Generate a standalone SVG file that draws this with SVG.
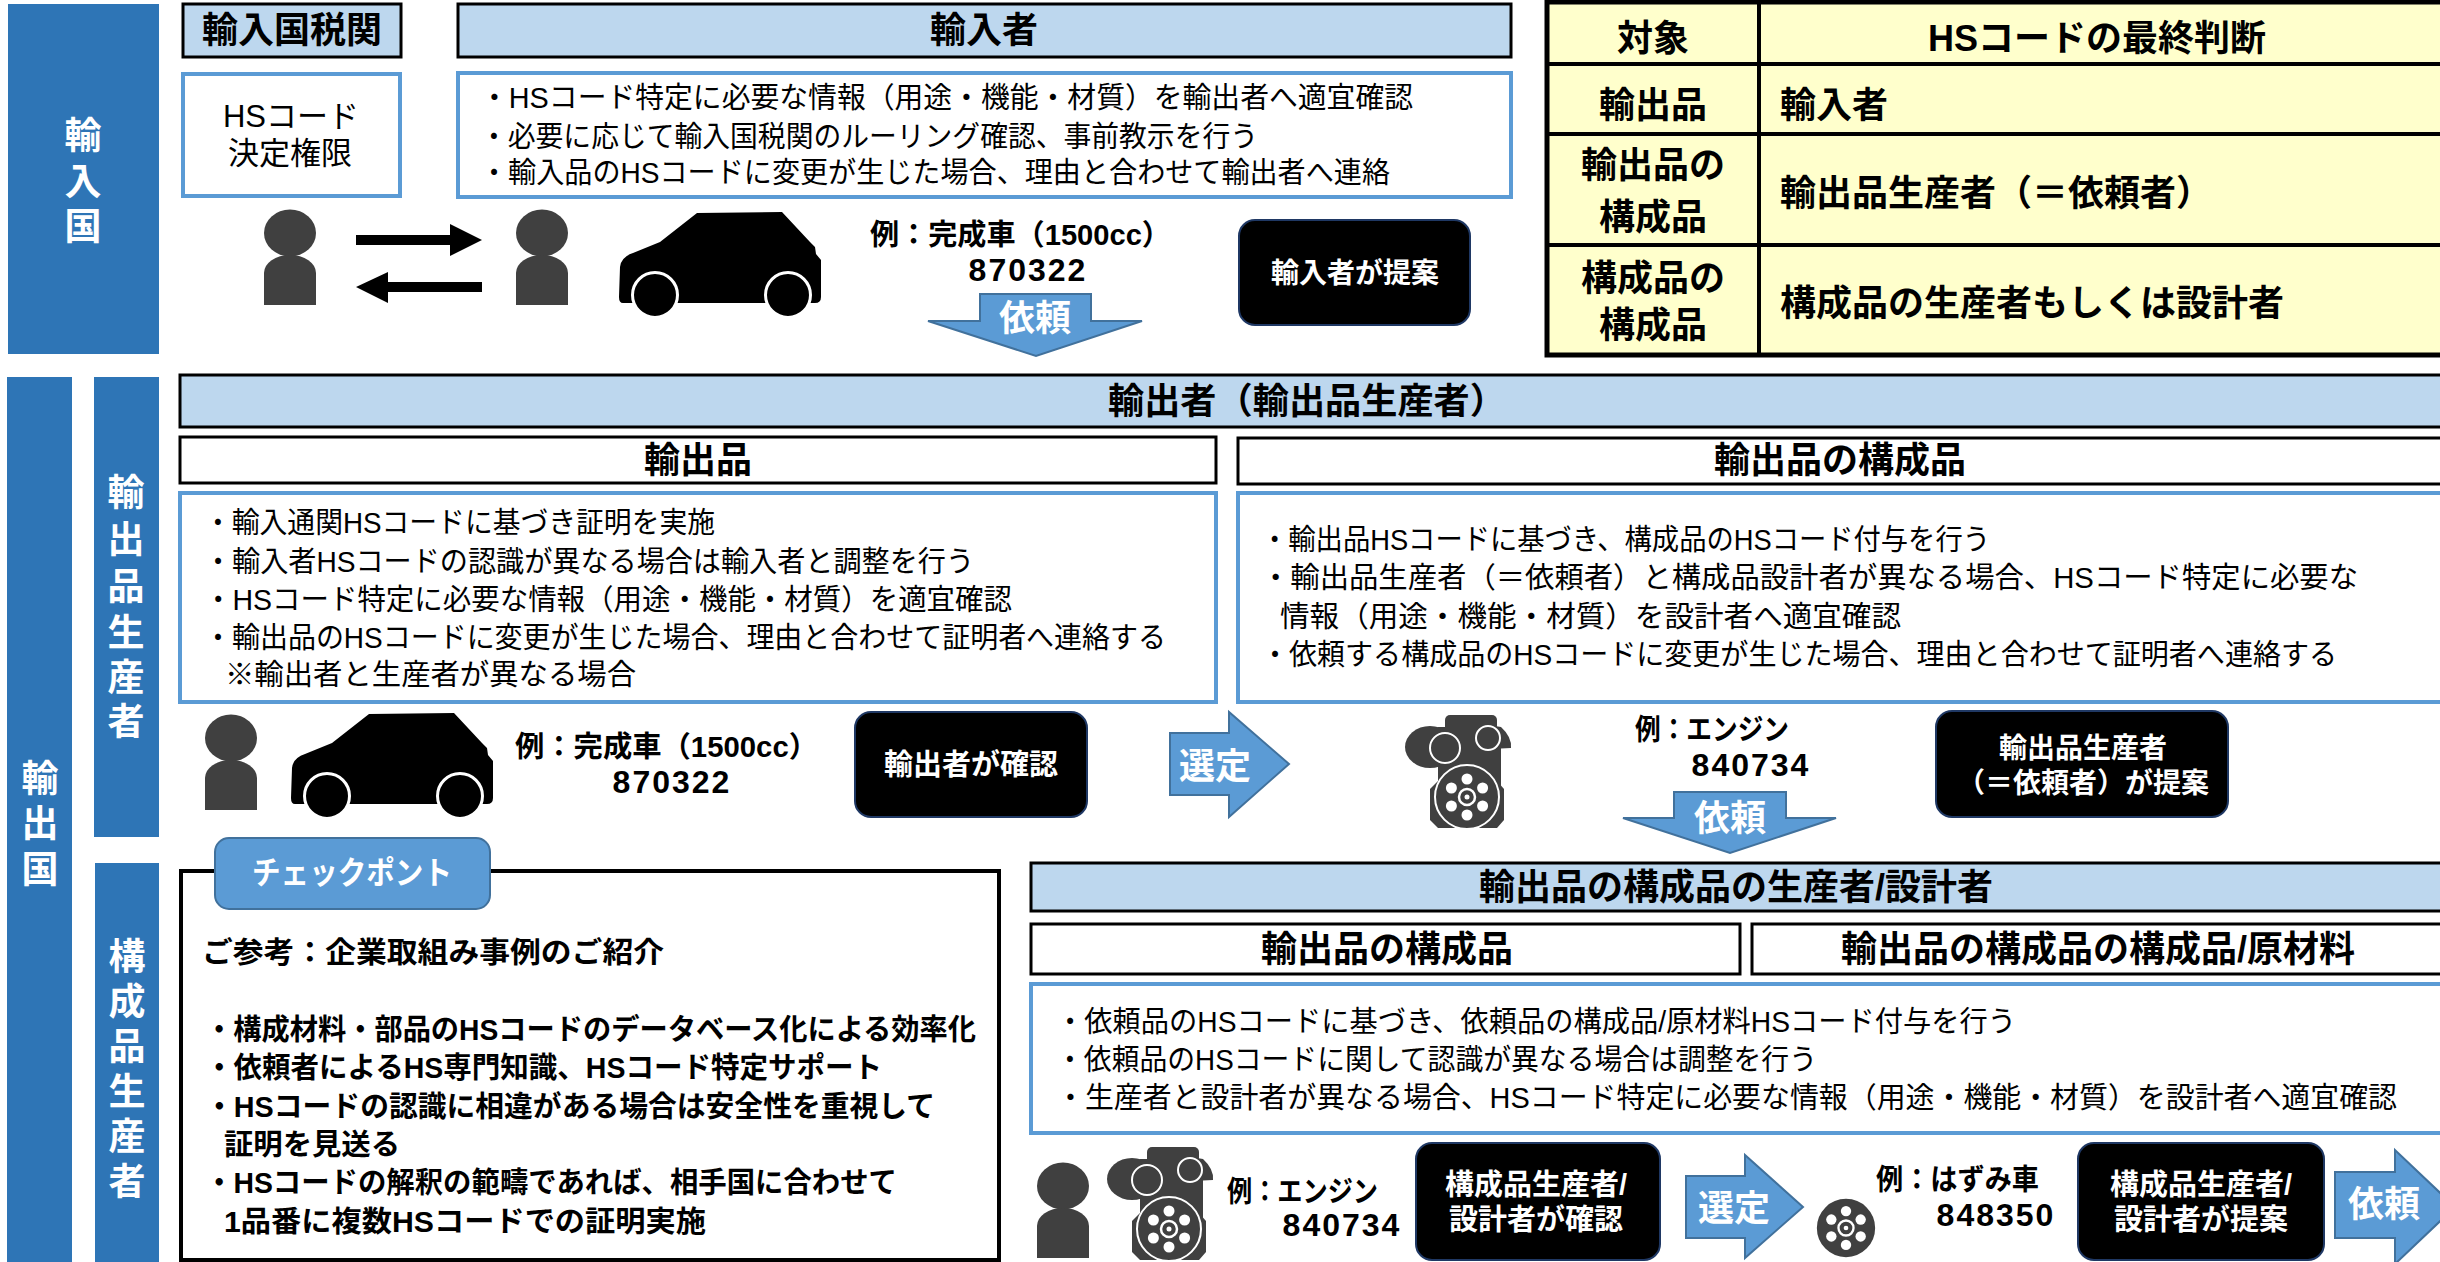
<svg xmlns="http://www.w3.org/2000/svg" xmlns:xlink="http://www.w3.org/1999/xlink" width="2440" height="1262" viewBox="0 0 2440 1262">
<style>
  .t{font-family:"Liberation Sans","Noto Sans CJK JP",sans-serif;fill:#000}
  .b{font-weight:700}
  .c{text-anchor:middle;dominant-baseline:central}
  .l{dominant-baseline:central}
  .w{fill:#fff}
  .band{fill:#2E75B6}
  .hdr{fill:#BDD7EE;stroke:#000;stroke-width:3}
  .sub{fill:#fff;stroke:#000;stroke-width:3}
  .desc{fill:#fff;stroke:#5B9BD5;stroke-width:4}
  .blk{fill:#000;stroke:#1F3864;stroke-width:2}
  .arw{fill:#5B9BD5;stroke:#41719C;stroke-width:2}
  .icon{fill:#404040}
  .body{font-size:29px}
  .hd{font-size:36px;font-weight:700}
  .code{font-size:32px;font-weight:700;letter-spacing:2px}
  .ex{font-size:29px;font-weight:700}
</style>
<defs>
  <g id="person" class="icon">
    <ellipse cx="26" cy="23" rx="26" ry="23.5"/>
    <path d="M0,95 V63 A26,18 0 0 1 52,63 V95 Z"/>
  </g>
  <g id="wheel">
    <circle r="32" fill="#404040" stroke="#fff" stroke-width="2"/>
    <g fill="#fff">
      <circle cx="0" cy="-18" r="5.5"/>
      <circle cx="15.6" cy="-9" r="5.5"/>
      <circle cx="15.6" cy="9" r="5.5"/>
      <circle cx="0" cy="18" r="5.5"/>
      <circle cx="-15.6" cy="9" r="5.5"/>
      <circle cx="-15.6" cy="-9" r="5.5"/>
      <circle r="2.5"/>
    </g>
    <circle r="8" fill="none" stroke="#fff" stroke-width="2.5"/>
  </g>
  <g id="engine">
    <g class="icon">
      <rect x="40" y="0" width="52" height="24" rx="5"/>
      <rect x="33" y="12" width="63" height="60"/>
      <ellipse cx="25" cy="32" rx="25" ry="21"/>
      <path d="M84,10 L96,12 Q107,22 106,33 L86,34 Z"/>
      <polygon points="33,66 25,74 25,105 33,113 92,113 99,105 99,74 92,66"/>
    </g>
    <circle cx="40" cy="33" r="15" fill="#404040" stroke="#fff" stroke-width="2"/>
    <circle cx="83" cy="23" r="12" fill="#404040" stroke="#fff" stroke-width="2"/>
    <use xlink:href="#wheel" transform="translate(62,82)"/>
  </g>
  <g id="car">
    <path d="M0,86 L1,56 Q2,46 14,42 L41,31 L78,2 L163,1 L191,31 L196,36 L197,43 L202,49 L202,86 Q202,92 196,92 L4,92 Q0,92 0,86 Z" fill="#000"/>
    <circle cx="36" cy="84" r="22.5" fill="#000" stroke="#fff" stroke-width="3"/>
    <circle cx="169" cy="84" r="22.5" fill="#000" stroke="#fff" stroke-width="3"/>
  </g>
</defs>

<!-- side bands -->
<g id="band-import">
  <rect class="band" x="8" y="4" width="151" height="350"/>
  <text class="t b c w" font-size="37"><tspan x="83" y="136">輸</tspan><tspan x="83" y="182">入</tspan><tspan x="83" y="227">国</tspan></text>
</g>
<g id="band-export">
  <rect class="band" x="7" y="377" width="65" height="890"/>
  <text class="t b c w" font-size="37"><tspan x="40" y="779">輸</tspan><tspan x="40" y="824">出</tspan><tspan x="40" y="870">国</tspan></text>
</g>
<g id="band-export-producer">
  <rect class="band" x="94" y="377" width="65" height="460"/>
  <text class="t b c w" font-size="37"><tspan x="126" y="493">輸</tspan><tspan x="126" y="540">出</tspan><tspan x="126" y="587">品</tspan><tspan x="126" y="633">生</tspan><tspan x="126" y="678">産</tspan><tspan x="126" y="722">者</tspan></text>
</g>
<g id="band-part-producer">
  <rect class="band" x="95" y="863" width="64" height="404"/>
  <text class="t b c w" font-size="37"><tspan x="127" y="957">構</tspan><tspan x="127" y="1002">成</tspan><tspan x="127" y="1047">品</tspan><tspan x="127" y="1092">生</tspan><tspan x="127" y="1137">産</tspan><tspan x="127" y="1182">者</tspan></text>
</g>

<!-- importing country -->
<g id="customs">
  <rect class="hdr" x="183" y="4" width="218" height="53"/>
  <text class="t hd c" x="292" y="30">輸入国税関</text>
  <rect class="desc" x="183" y="74" width="217" height="122"/>
  <text class="t c" font-size="31" x="291" y="116">HSコード</text>
  <text class="t c" font-size="31" x="290" y="153">決定権限</text>
</g>
<g id="importer">
  <rect class="hdr" x="458" y="4" width="1053" height="53"/>
  <text class="t hd c" x="984" y="30">輸入者</text>
  <rect class="desc" x="458" y="73" width="1053" height="124"/>
  <text class="t body l" x="480" y="98" textLength="933" lengthAdjust="spacingAndGlyphs">・HSコード特定に必要な情報（用途・機能・材質）を輸出者へ適宜確認</text>
  <text class="t body l" x="480" y="137" textLength="778" lengthAdjust="spacingAndGlyphs">・必要に応じて輸入国税関のルーリング確認、事前教示を行う</text>
  <text class="t body l" x="480" y="173" textLength="910" lengthAdjust="spacingAndGlyphs">・輸入品のHSコードに変更が生じた場合、理由と合わせて輸出者へ連絡</text>
</g>
<g id="import-scene">
  <use xlink:href="#person" x="264" y="210"/>
  <use xlink:href="#person" x="516" y="210"/>
  <use xlink:href="#car" x="619" y="211"/>
  <text class="t ex l" x="870" y="235" textLength="301" lengthAdjust="spacingAndGlyphs">例：完成車（1500cc）</text>
  <text class="t code c" x="1028" y="270">870322</text>
</g>
<g id="importer-proposes">
  <rect class="blk" x="1239" y="220" width="231" height="105" rx="16"/>
  <text class="t b c w" font-size="28" x="1355" y="273">輸入者が提案</text>
</g>

<!-- HS final decision table -->
<g id="decision-table">
  <rect x="1547" y="2" width="900" height="353" fill="#FFFFCC" stroke="#000" stroke-width="5"/>
  <g stroke="#000" stroke-width="4">
    <line x1="1759" y1="0" x2="1759" y2="355"/>
    <line x1="1547" y1="64" x2="2440" y2="64"/>
    <line x1="1547" y1="134" x2="2440" y2="134"/>
    <line x1="1547" y1="245" x2="2440" y2="245"/>
  </g>
  <g class="t hd">
    <text class="c" x="1653" y="38">対象</text>
    <text class="c" x="2097" y="38">HSコードの最終判断</text>
    <text class="c" x="1653" y="105">輸出品</text>
    <text class="l" x="1780" y="105">輸入者</text>
    <text class="c" x="1653" y="165">輸出品の</text>
    <text class="c" x="1653" y="217">構成品</text>
    <text class="l" x="1780" y="193" textLength="432" lengthAdjust="spacingAndGlyphs">輸出品生産者（＝依頼者）</text>
    <text class="c" x="1653" y="278">構成品の</text>
    <text class="c" x="1653" y="325">構成品</text>
    <text class="l" x="1780" y="303">構成品の生産者もしくは設計者</text>
  </g>
</g>

<!-- exporting country: exporter -->
<g id="exporter">
  <rect class="hdr" x="180" y="375" width="2270" height="52"/>
  <text class="t hd c" x="1307" y="401" textLength="398" lengthAdjust="spacingAndGlyphs">輸出者（輸出品生産者）</text>
</g>
<g id="export-goods">
  <rect class="sub" x="180" y="437" width="1036" height="46"/>
  <text class="t hd c" x="698" y="460">輸出品</text>
  <rect class="desc" x="180" y="493" width="1036" height="209"/>
  <text class="t body l" x="204" y="523" textLength="511" lengthAdjust="spacingAndGlyphs">・輸入通関HSコードに基づき証明を実施</text>
  <text class="t body l" x="204" y="562" textLength="770" lengthAdjust="spacingAndGlyphs">・輸入者HSコードの認識が異なる場合は輸入者と調整を行う</text>
  <text class="t body l" x="204" y="600" textLength="808" lengthAdjust="spacingAndGlyphs">・HSコード特定に必要な情報（用途・機能・材質）を適宜確認</text>
  <text class="t body l" x="204" y="638" textLength="962" lengthAdjust="spacingAndGlyphs">・輸出品のHSコードに変更が生じた場合、理由と合わせて証明者へ連絡する</text>
  <text class="t body l" x="225" y="675" textLength="411" lengthAdjust="spacingAndGlyphs">※輸出者と生産者が異なる場合</text>
</g>
<g id="export-parts">
  <rect class="sub" x="1238" y="438" width="1210" height="46"/>
  <text class="t hd c" x="1840" y="460">輸出品の構成品</text>
  <rect class="desc" x="1238" y="493" width="1210" height="209"/>
  <text class="t body l" x="1261" y="540" textLength="729" lengthAdjust="spacingAndGlyphs">・輸出品HSコードに基づき、構成品のHSコード付与を行う</text>
  <text class="t body l" x="1261" y="578" textLength="1097" lengthAdjust="spacingAndGlyphs">・輸出品生産者（＝依頼者）と構成品設計者が異なる場合、HSコード特定に必要な</text>
  <text class="t body l" x="1280" y="617" textLength="621" lengthAdjust="spacingAndGlyphs">情報（用途・機能・材質）を設計者へ適宜確認</text>
  <text class="t body l" x="1261" y="655" textLength="1076" lengthAdjust="spacingAndGlyphs">・依頼する構成品のHSコードに変更が生じた場合、理由と合わせて証明者へ連絡する</text>
</g>
<g id="export-scene">
  <use xlink:href="#person" x="205" y="715"/>
  <use xlink:href="#car" x="291" y="712"/>
  <text class="t ex l" x="515" y="747" textLength="303" lengthAdjust="spacingAndGlyphs">例：完成車（1500cc）</text>
  <text class="t code c" x="672" y="782">870322</text>
</g>
<g id="exporter-confirms">
  <rect class="blk" x="855" y="712" width="232" height="105" rx="16"/>
  <text class="t b c w" font-size="29" x="971" y="765">輸出者が確認</text>
</g>
<g id="engine-scene">
  <use xlink:href="#engine" x="1405" y="715"/>
  <text class="t ex l" x="1635" y="730" textLength="154" lengthAdjust="spacingAndGlyphs">例：エンジン</text>
  <text class="t code c" x="1751" y="765">840734</text>
</g>
<g id="producer-proposes">
  <rect class="blk" x="1936" y="711" width="292" height="106" rx="16"/>
  <text class="t b c w" font-size="28" x="2083" y="748">輸出品生産者</text>
  <text class="t b c w" font-size="28" x="2083" y="783">（＝依頼者）が提案</text>
</g>

<!-- checkpoint -->
<g id="checkpoint">
  <rect x="181" y="871" width="818" height="389" fill="#fff" stroke="#000" stroke-width="4"/>
  <rect x="215" y="838" width="275" height="71" rx="14" fill="#5B9BD5" stroke="#41719C" stroke-width="2"/>
  <text class="t b c w" font-size="32" x="352" y="873" textLength="200" lengthAdjust="spacingAndGlyphs">チェックポント</text>
  <g class="t b" font-size="29">
    <text class="l" x="202" y="953" textLength="462" lengthAdjust="spacingAndGlyphs">ご参考：企業取組み事例のご紹介</text>
    <text class="l" x="205" y="1030" textLength="771" lengthAdjust="spacingAndGlyphs">・構成材料・部品のHSコードのデータベース化による効率化</text>
    <text class="l" x="205" y="1068" textLength="677" lengthAdjust="spacingAndGlyphs">・依頼者によるHS専門知識、HSコード特定サポート</text>
    <text class="l" x="205" y="1107" textLength="730" lengthAdjust="spacingAndGlyphs">・HSコードの認識に相違がある場合は安全性を重視して</text>
    <text class="l" x="224" y="1145" textLength="176" lengthAdjust="spacingAndGlyphs">証明を見送る</text>
    <text class="l" x="205" y="1183" textLength="692" lengthAdjust="spacingAndGlyphs">・HSコードの解釈の範疇であれば、相手国に合わせて</text>
    <text class="l" x="224" y="1222" textLength="482" lengthAdjust="spacingAndGlyphs">1品番に複数HSコードでの証明実施</text>
  </g>
</g>

<!-- part producer / designer -->
<g id="part-producer">
  <rect class="hdr" x="1031" y="863" width="1420" height="48"/>
  <text class="t hd c" x="1736" y="887">輸出品の構成品の生産者/設計者</text>
</g>
<g id="part-goods">
  <rect class="sub" x="1031" y="924" width="709" height="50"/>
  <text class="t hd c" x="1387" y="949">輸出品の構成品</text>
</g>
<g id="part-materials">
  <rect class="sub" x="1752" y="924" width="700" height="50"/>
  <text class="t hd c" x="2098" y="949">輸出品の構成品の構成品/原材料</text>
</g>
<g id="part-duties">
  <rect class="desc" x="1031" y="984" width="1420" height="149"/>
  <text class="t body l" x="1056" y="1022" textLength="960" lengthAdjust="spacingAndGlyphs">・依頼品のHSコードに基づき、依頼品の構成品/原材料HSコード付与を行う</text>
  <text class="t body l" x="1056" y="1060" textLength="761" lengthAdjust="spacingAndGlyphs">・依頼品のHSコードに関して認識が異なる場合は調整を行う</text>
  <text class="t body l" x="1056" y="1098" textLength="1341" lengthAdjust="spacingAndGlyphs">・生産者と設計者が異なる場合、HSコード特定に必要な情報（用途・機能・材質）を設計者へ適宜確認</text>
</g>
<g id="part-scene">
  <use xlink:href="#person" x="1037" y="1163"/>
  <use xlink:href="#engine" x="1107" y="1147"/>
  <text class="t ex l" x="1227" y="1192" textLength="151" lengthAdjust="spacingAndGlyphs">例：エンジン</text>
  <text class="t code c" x="1342" y="1225">840734</text>
</g>
<g id="part-confirms">
  <rect class="blk" x="1416" y="1143" width="244" height="117" rx="16"/>
  <text class="t b c w" font-size="29" x="1536" y="1185">構成品生産者/</text>
  <text class="t b c w" font-size="29" x="1536" y="1220">設計者が確認</text>
</g>
<g id="flywheel-scene">
  <use xlink:href="#wheel" transform="translate(1846,1228) scale(0.94)"/>
  <text class="t ex l" x="1876" y="1180" textLength="163" lengthAdjust="spacingAndGlyphs">例：はずみ車</text>
  <text class="t code c" x="1996" y="1215">848350</text>
</g>
<g id="part-proposes">
  <rect class="blk" x="2078" y="1143" width="246" height="117" rx="16"/>
  <text class="t b c w" font-size="29" x="2201" y="1185">構成品生産者/</text>
  <text class="t b c w" font-size="29" x="2201" y="1220">設計者が提案</text>
</g>

<!-- connectors -->
<g id="connectors">
  <polygon points="356,235 450,235 450,224 482,240 450,256 450,245 356,245" fill="#000"/>
  <polygon points="356,287 388,272 388,282 482,282 482,292 388,292 388,303" fill="#000"/>
  <polygon class="arw" points="980,294 1091,294 1091,321 1142,321 1036,356 928,321 980,321"/>
  <text class="t b c w" font-size="36" x="1035" y="318">依頼</text>
  <polygon class="arw" points="1170,733 1229,733 1229,712 1289,764 1229,817 1229,795 1170,795"/>
  <text class="t b c w" font-size="36" x="1215" y="766">選定</text>
  <polygon class="arw" points="1674,792 1786,792 1786,818 1836,818 1730,853 1623,818 1674,818"/>
  <text class="t b c w" font-size="36" x="1730" y="818">依頼</text>
  <polygon class="arw" points="1686,1176 1745,1176 1745,1155 1803,1207 1745,1258 1745,1238 1686,1238"/>
  <text class="t b c w" font-size="36" x="1734" y="1208">選定</text>
  <polygon class="arw" points="2335,1172 2395,1172 2395,1150 2455,1207 2395,1264 2395,1238 2335,1238"/>
  <text class="t b c w" font-size="36" x="2384" y="1204">依頼</text>
</g>
</svg>
